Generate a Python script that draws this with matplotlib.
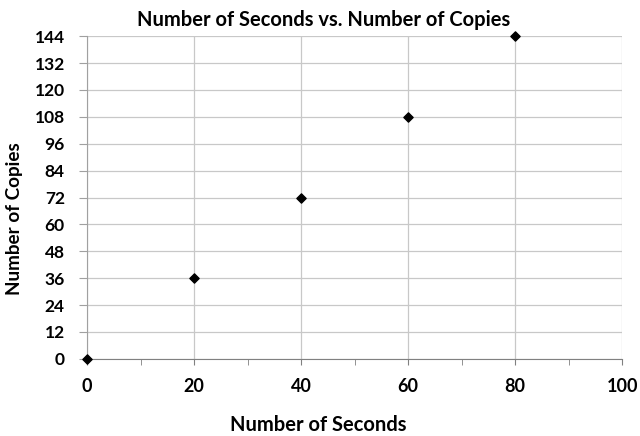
import matplotlib.pyplot as plt
from matplotlib.ticker import MultipleLocator

plt.rcParams['font.family'] = ['Lato', 'DejaVu Sans']

seconds = [0, 20, 40, 60, 80]
copies = [0, 36, 72, 108, 144]

x_ticks = [0, 20, 40, 60, 80, 100]
y_ticks = [0, 12, 24, 36, 48, 60, 72, 84, 96, 108, 120, 132, 144]

fig = plt.figure(figsize=(6.4, 4.36), dpi=100)
ax = fig.add_axes([0.136, 0.177, 0.836, 0.740])

ax.scatter(seconds, copies, marker='D', s=22, color='black', zorder=3, clip_on=False)

ax.set_xlim(0, 100)
ax.set_ylim(0, 144)
ax.set_xticks(x_ticks)
ax.set_yticks(y_ticks)
ax.xaxis.set_minor_locator(MultipleLocator(10))
ax.grid(True, which='major', color='#c8c8c8', linewidth=0.9)
ax.set_axisbelow(True)

for side in ['top', 'right']:
    ax.spines[side].set_visible(False)
ax.spines['bottom'].set_color('#808080')
ax.spines['left'].set_color('#a0a0a0')

ax.tick_params(axis='x', which='both', direction='out', length=4, color='#808080',
               pad=10, labelsize=13)
ax.tick_params(axis='y', which='both', direction='out', length=6, color='#a0a0a0',
               pad=10, labelsize=12.5)
for lbl in ax.get_xticklabels() + ax.get_yticklabels():
    lbl.set_fontweight('bold')

fig.text(0.506, 0.954, 'Number of Seconds vs. Number of Copies', fontsize=14.5,
         fontweight='bold', ha='center', va='center')
ax.set_xlabel('Number of Seconds', fontsize=14.5, fontweight='bold', va='center')
ax.xaxis.set_label_coords(0.432, -0.204)
ax.set_ylabel('Number of Copies', fontsize=13.6, fontweight='bold', va='center')
ax.yaxis.set_label_coords(-0.135, 0.433)

fig.savefig('out.png', dpi=100)
